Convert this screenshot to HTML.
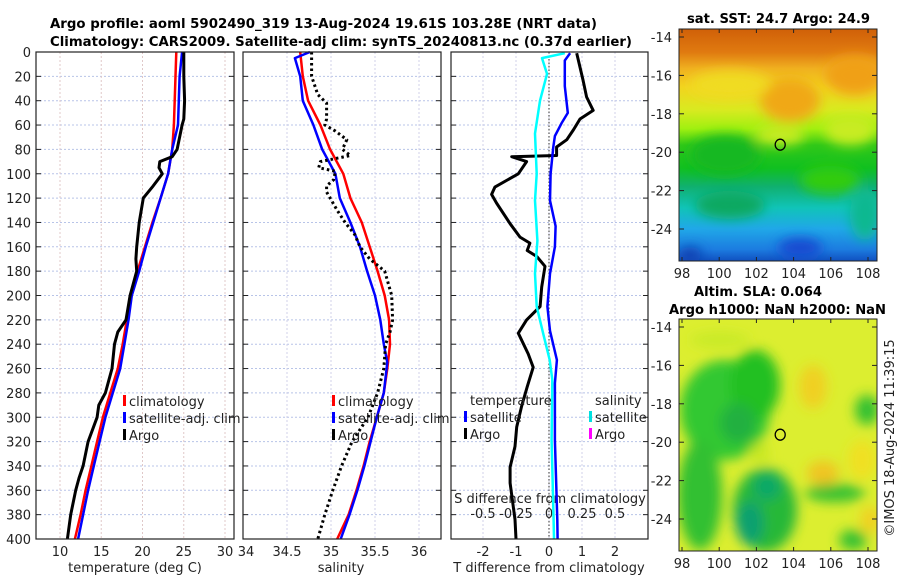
<!DOCTYPE html>
<html><head><meta charset="utf-8"><style>
html,body{margin:0;padding:0;background:#fff;}
svg{display:block;font-family:"DejaVu Sans","Liberation Sans",sans-serif;}
</style></head><body>
<svg id="c" width="900" height="580" viewBox="0 0 900 580">
<defs>
<filter id="blur" x="-20%" y="-20%" width="140%" height="140%"><feGaussianBlur stdDeviation="6"/></filter>
<linearGradient id="sstg" x1="0" y1="0" x2="0" y2="1">
<stop offset="0" stop-color="#d06008"/><stop offset="0.1" stop-color="#e07a10"/>
<stop offset="0.17" stop-color="#f0b020"/><stop offset="0.25" stop-color="#f2d420"/>
<stop offset="0.35" stop-color="#d8ea20"/><stop offset="0.43" stop-color="#a0f010"/>
<stop offset="0.50" stop-color="#30c818"/><stop offset="0.60" stop-color="#10c020"/>
<stop offset="0.68" stop-color="#10b070"/><stop offset="0.77" stop-color="#10c4b8"/>
<stop offset="0.86" stop-color="#20a8e8"/><stop offset="0.95" stop-color="#1c7ce0"/>
<stop offset="1" stop-color="#1050c0"/></linearGradient>
<clipPath id="m1"><rect x="679" y="29" width="198" height="232"/></clipPath>
<clipPath id="m2"><rect x="679" y="319" width="198" height="232"/></clipPath>
<clipPath id="p3"><rect x="451" y="52" width="197" height="487"/></clipPath>
</defs>
<g id="titles" font-weight="bold" font-size="13.5">
<text x="50" y="28" textLength="547" lengthAdjust="spacingAndGlyphs">Argo profile: aoml 5902490_319 13-Aug-2024 19.61S 103.28E (NRT data)</text>
<text x="50" y="46" textLength="582" lengthAdjust="spacingAndGlyphs">Climatology: CARS2009. Satellite-adj clim: synTS_20240813.nc (0.37d earlier)</text>
<text x="687" y="23" textLength="183" lengthAdjust="spacingAndGlyphs">sat. SST: 24.7 Argo: 24.9</text>
<text x="694" y="296" textLength="128" lengthAdjust="spacingAndGlyphs">Altim. SLA: 0.064</text>
<text x="669" y="314" textLength="217" lengthAdjust="spacingAndGlyphs">Argo h1000: NaN h2000: NaN</text>
</g>
<g id="maps">
<g clip-path="url(#m1)">
<rect x="679" y="29" width="198" height="232" fill="url(#sstg)"/>
<g filter="url(#blur)">
<ellipse cx="790" cy="100" rx="30" ry="22" fill="#f0a818"/>
<ellipse cx="855" cy="75" rx="30" ry="20" fill="#f0a018"/>
<ellipse cx="730" cy="85" rx="40" ry="14" fill="#f0dc20"/>
<ellipse cx="725" cy="155" rx="35" ry="20" fill="#18b820"/>
<ellipse cx="850" cy="130" rx="25" ry="15" fill="#c8ec20"/>
<ellipse cx="780" cy="135" rx="25" ry="10" fill="#c8ec20"/>
<ellipse cx="830" cy="180" rx="30" ry="14" fill="#30cc10"/>
<ellipse cx="730" cy="205" rx="35" ry="14" fill="#10a860"/>
<ellipse cx="865" cy="215" rx="15" ry="25" fill="#10b890"/>
<ellipse cx="800" cy="248" rx="22" ry="10" fill="#1848d0"/>
<ellipse cx="690" cy="255" rx="12" ry="8" fill="#1040b0"/>
</g>
</g>
<rect x="679" y="29" width="198" height="232" fill="none" stroke="#222" stroke-width="1"/>
<g clip-path="url(#m2)">
<rect x="679" y="319" width="198" height="232" fill="#dcee30"/>
<g filter="url(#blur)">
<ellipse cx="725" cy="410" rx="45" ry="50" fill="#30c830"/>
<ellipse cx="700" cy="495" rx="22" ry="55" fill="#30c030"/>
<ellipse cx="755" cy="385" rx="25" ry="35" fill="#20c020"/>
<ellipse cx="738" cy="423" rx="18" ry="20" fill="#20b040"/>
<ellipse cx="765" cy="510" rx="32" ry="42" fill="#28b838"/>
<ellipse cx="750" cy="523" rx="14" ry="22" fill="#10a070"/>
<ellipse cx="767" cy="487" rx="14" ry="14" fill="#10a868"/>
<ellipse cx="835" cy="493" rx="30" ry="9" fill="#30c030"/>
<ellipse cx="867" cy="410" rx="12" ry="15" fill="#30c030"/>
<ellipse cx="853" cy="540" rx="14" ry="10" fill="#30c030"/>
<ellipse cx="720" cy="340" rx="30" ry="8" fill="#c8ea28"/>
<ellipse cx="813" cy="387" rx="14" ry="22" fill="#f0d020"/>
<ellipse cx="823" cy="473" rx="16" ry="12" fill="#f0c420"/>
<ellipse cx="870" cy="520" rx="10" ry="14" fill="#f0d020"/>
<ellipse cx="862" cy="460" rx="14" ry="20" fill="#f0e020"/>
<ellipse cx="760" cy="453" rx="10" ry="10" fill="#c8e820"/>
</g>
</g>
<rect x="679" y="319" width="198" height="232" fill="none" stroke="#222" stroke-width="1"/>
</g>
<g id="axes"></g>
<text transform="translate(894,438) rotate(-90)" text-anchor="middle" font-size="13" fill="#222">©IMOS 18-Aug-2024 11:39:15</text>
</svg>
<script>
// ---- data ----
const depthTicks=[0,20,40,60,80,100,120,140,160,180,200,220,240,260,280,300,320,340,360,380,400];
const climDepth=[0,20,40,60,80,100,120,140,160,180,200,220,240,260,280,300,320,340,360,380,400];
const tempClim=[24.1,24.0,23.9,23.8,23.6,23.1,22.2,21.2,20.3,19.4,18.5,18.1,17.6,17.0,16.1,15.2,14.5,13.8,13.1,12.5,11.8];
const tempSat=[24.8,24.5,24.4,24.3,23.6,23.1,22.2,21.3,20.4,19.6,18.7,18.3,17.8,17.3,16.4,15.5,14.8,14.1,13.4,12.8,12.2];
const argoTDepth=[0,20,40,55,60,80,86,90,95,100,110,120,140,160,170,180,200,220,230,240,260,280,290,300,320,340,350,360,380,400];
const argoTemp=[25.0,25.0,25.1,25.0,24.8,24.2,23.6,22.1,22.0,22.4,21.3,20.1,19.6,19.3,19.2,19.3,18.5,18.0,17.0,16.6,16.3,15.5,14.7,14.5,13.4,12.8,12.3,11.9,11.3,10.9];
const salClim=[34.65,34.68,34.74,34.88,34.99,35.14,35.22,35.35,35.44,35.53,35.61,35.66,35.67,35.64,35.60,35.52,35.44,35.37,35.29,35.20,35.07];
const salSatDepth=[0,5,20,40,60,80,100,120,140,160,180,200,220,240,255,280,300,320,340,360,380,400];
const salSat=[34.76,34.59,34.65,34.68,34.80,34.90,35.05,35.10,35.22,35.33,35.41,35.50,35.56,35.60,35.64,35.60,35.52,35.45,35.38,35.30,35.21,35.11];
const argoSDepth=[0,20,35,42,55,60,65,72,80,85,90,95,98,105,110,115,130,140,150,160,170,180,200,220,230,240,260,280,300,320,340,360,380,400];
const argoSal=[34.78,34.78,34.85,34.95,34.95,34.93,35.05,35.18,35.13,35.22,34.88,34.86,35.05,35.03,34.95,34.95,35.07,35.16,35.27,35.33,35.44,35.61,35.69,35.70,35.67,35.62,35.60,35.53,35.42,35.24,35.12,35.02,34.93,34.85];
const dTDepth=[1,7,28,50,58,69,78,100,122,143,160,182,209,229,253,272,319,384,400];
const dTSat=[0.64,0.48,0.48,0.57,0.39,0.18,0.13,0.05,0.03,0.2,0.18,0.03,-0.05,0.03,0.24,0.18,0.18,0.25,0.26];
const dSDepth=[1,5,18,40,67,100,122,155,182,209,231,253,269,319,384,400];
const dSSat=[0.12,-0.053,-0.015,-0.068,-0.106,-0.093,-0.106,-0.088,-0.106,-0.093,-0.045,0.005,0.025,0.02,0.035,0.038];
const dTArgoDepth=[1,23,37,48,55,64,72,78,85,86,90,100,111,117,124,141,152,157,163,168,176,193,209,220,231,248,259,275,291,308,324,341,354,384,400];
const dTArgo=[0.84,1.03,1.14,1.34,0.94,0.74,0.54,0.23,0.23,-1.13,-0.68,-0.93,-1.64,-1.74,-1.59,-1.18,-0.88,-0.58,-0.66,-0.37,-0.12,-0.22,-0.27,-0.68,-0.93,-0.63,-0.48,-0.66,-0.83,-0.98,-1.03,-1.18,-1.18,-1.03,-1.0];
const tTicks=[10,15,20,25,30];
const sTicks=[34,34.5,35,35.5,36];
const sTickLabels=["34","34.5","35","35.5","36"];
const dtTicks=[-2,-1,0,1,2];
const dsTicks=[-0.5,-0.25,0,0.25,0.5];
const dsTickLabels=["-0.5","-0.25","0","0.25","0.5"];
const lonTicks=[98,100,102,104,106,108];
const latTicks=[-14,-16,-18,-20,-22,-24];
const argoLon=103.28, argoLat=-19.61;

// ---- scales ----
const yD=d=>52+d*1.2175;
const xT=t=>60+(t-10)*8.25;
const xS=s=>243+(s-34)*88;
const xDT=v=>549+v*33;
const xDS=v=>549+v*132;
const xLon=l=>682+(l-98)*18.6;
const yLat1=l=>37+(-14-l)*19.2;
const yLat2=l=>327+(-14-l)*19.2;

const NS="http://www.w3.org/2000/svg";
const root=document.getElementById('axes');
function mk(tag,attrs,parent){const e=document.createElementNS(NS,tag);for(const k in attrs)e.setAttribute(k,attrs[k]);(parent||root).appendChild(e);return e;}
function txt(x,y,s,anchor,size,parent){const e=mk('text',{x:x,y:y,'text-anchor':anchor||'start','font-size':size||13,fill:'#222'},parent);e.textContent=s;return e;}

const panels=[{x0:36,x1:234},{x0:243,x1:441},{x0:451,x1:648}];
panels.forEach((p,i)=>{
  const g=mk('g',{});
  
  
  depthTicks.forEach(d=>{
    const y=yD(d);
    const gl=mk('line',{x1:p.x0,x2:p.x1,y1:y,y2:y,stroke:'#b8c4e8','stroke-width':1,'stroke-dasharray':'2,2'},g);
    
    
    mk('line',{x1:p.x0,x2:p.x0+5,y1:y,y2:y,stroke:'#222'},g);
    mk('line',{x1:p.x1-5,x2:p.x1,y1:y,y2:y,stroke:'#222'},g);
  });
});
tTicks.forEach(t=>{const l=mk('line',{x1:xT(t),x2:xT(t),y1:52,y2:539,stroke:'#e0c8c8','stroke-dasharray':'2,2'});});
sTicks.forEach(s=>{const l=mk('line',{x1:xS(s),x2:xS(s),y1:52,y2:539,stroke:'#d0d0e8','stroke-dasharray':'2,2'});});
dtTicks.forEach(t=>{const l=mk('line',{x1:xDT(t),x2:xDT(t),y1:52,y2:539,stroke:'#d0d0e8','stroke-dasharray':'2,2'});});
const zl=mk('line',{x1:xDT(0),x2:xDT(0),y1:52,y2:539,stroke:'#555','stroke-width':1.2,'stroke-dasharray':'1.5,2'});



depthTicks.forEach(d=>{const t=txt(31,yD(d)+5,String(d),'end',13);});
tTicks.forEach(t=>{const e=txt(xT(t),556,String(t),'middle',13);});
sTicks.forEach((s,i)=>{const e=txt(xS(s)+(i==0?3:0),556,sTickLabels[i],'middle',13);});
dtTicks.forEach(t=>{const e=txt(xDT(t),556,String(t),'middle',13);});
dsTicks.forEach((s,i)=>{const e=txt(xDS(s),518,dsTickLabels[i],'middle',13);});
let e;
e=txt(135,572,'temperature (deg C)','middle',13);
e=txt(341,572,'salinity','middle',13);
e=txt(549,572,'T difference from climatology','middle',13);
e=txt(550,503,'S difference from climatology','middle',13);

function line(xs,ds,xf,color,w,dash,name,clip){
  const pts=xs.map((v,i)=>xf(v).toFixed(1)+','+yD(ds[i]).toFixed(1)).join(' ');
  const a={points:pts,fill:'none',stroke:color,'stroke-width':w,'stroke-linejoin':'round'};
  if(dash)a['stroke-dasharray']=dash;
  if(clip)a['clip-path']=clip;
  const p=mk('polyline',a);
  
  
}
line(tempClim,climDepth,xT,'#ff0000',2.5,null,'temp-climatology-line');
line(tempSat,climDepth,xT,'#0000ff',2.5,null,'temp-satellite-line');
line(argoTemp,argoTDepth,xT,'#000',3,null,'temp-argo-line');
line(salClim,climDepth,xS,'#ff0000',2.5,null,'sal-climatology-line');
line(salSat,salSatDepth,xS,'#0000ff',2.5,null,'sal-satellite-line');
line(argoSal,argoSDepth,xS,'#000',3,'2.5,3','sal-argo-line');
line(dTArgo,dTArgoDepth,xDT,'#000',3,null,'t-diff-argo-line','url(#p3)');
line(dTSat,dTDepth,xDT,'#0000ff',2.5,null,'t-diff-satellite-line','url(#p3)');
line(dSSat,dSDepth,xDS,'#00ffff',2.5,null,'s-diff-satellite-line','url(#p3)');

panels.forEach((p,i)=>{const r=mk('rect',{x:p.x0,y:52,width:p.x1-p.x0,height:487,fill:'none',stroke:'#222','stroke-width':1.2});});

function leg(x,y,color,label,name){
  const g=mk('g',{});
  
  
  mk('rect',{x:x-6,y:y-11,width:3,height:11,fill:color},g);
  txt(x,y,label,'start',13,g);
}
leg(129,406,'#ff0000','climatology','legend-entry-climatology');
leg(129,423,'#0000ff','satellite-adj. clim','legend-entry-satellite-adj');
leg(129,440,'#000','Argo','legend-entry-argo');
leg(338,406,'#ff0000','climatology','legend-entry-sal-climatology');
leg(338,423,'#0000ff','satellite-adj. clim','legend-entry-sal-satellite-adj');
leg(338,440,'#000','Argo','legend-entry-sal-argo');
e=txt(470,405,'temperature','start',13);
e=txt(595,405,'salinity','start',13);
leg(470,422,'#0000ff','satellite','legend-entry-t-satellite');
leg(470,439,'#000','Argo','legend-entry-t-argo');
leg(595,422,'#00e0e0','satellite','legend-entry-s-satellite');
leg(595,439,'#ff00ff','Argo','legend-entry-s-argo');

[[29,261,yLat1],[319,551,yLat2]].forEach(([y0,y1,yf],mi)=>{
  lonTicks.forEach(l=>{
    const x=xLon(l);
    mk('line',{x1:x,x2:x,y1:y1,y2:y1-4,stroke:'#222'});
    mk('line',{x1:x,x2:x,y1:y0,y2:y0+4,stroke:'#222'});
    const t=txt(x,y1+17,String(l),'middle',13);
    
    
  });
  latTicks.forEach(l=>{
    const y=yf(l);
    mk('line',{x1:679,x2:684,y1:y,y2:y,stroke:'#222'});
    mk('line',{x1:872,x2:877,y1:y,y2:y,stroke:'#222'});
    const t=txt(672,y+5,String(l),'end',13);
    
    
  });
  const c=mk('ellipse',{cx:xLon(argoLon),cy:yf(argoLat),rx:5,ry:5.5,fill:'none',stroke:'#000','stroke-width':1.3});
  
  
});
</script>
</body></html>
